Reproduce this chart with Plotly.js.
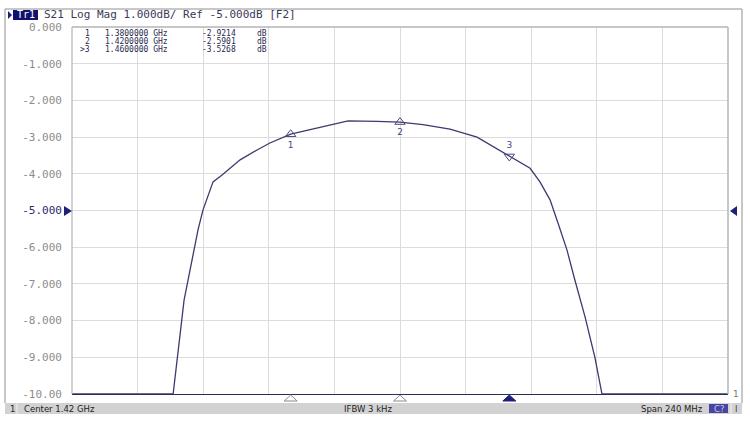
<!DOCTYPE html>
<html>
<head>
<meta charset="utf-8">
<script src="https://cdn.plot.ly/plotly-3.0.1.min.js"></script>
<style>html,body{margin:0;padding:0;background:#fff;}#chart{width:750px;height:427px;}</style>
</head>
<body>
<div id="chart"></div>
<script>
// ---- data ----
const freqGHz = [1.300, 1.337, 1.341, 1.3461, 1.3479, 1.3516, 1.3549, 1.3615, 1.3677, 1.3724, 1.380,
                 1.3896, 1.3955, 1.4010, 1.4116, 1.420, 1.4284, 1.4383, 1.4482, 1.460, 1.4676, 1.4712,
                 1.4749, 1.4778, 1.4811, 1.4840, 1.4877, 1.4913, 1.4939, 1.540];
const s21dB   = [-10, -10, -7.44, -5.53, -4.99, -4.22, -4.03, -3.62, -3.35, -3.16, -2.92,
                 -2.75, -2.64, -2.56, -2.57, -2.59, -2.66, -2.78, -3.00, -3.53, -3.85, -4.22,
                 -4.71, -5.34, -6.08, -6.90, -7.90, -9.00, -10, -10];
const markerNames = ['1', '2', '3'];
const markerTableNames = ['1', '2', '>3'];
const markerFreq = [1.38, 1.42, 1.46];
const markerVal = [-2.9214, -2.5901, -3.5268];
const markerFreqText = ['1.3800000 GHz', '1.4200000 GHz', '1.4600000 GHz'];
const markerValText = ['-2.9214', '-2.5901', '-3.5268'];
const gridFreq = [1.300, 1.324, 1.348, 1.372, 1.396, 1.420, 1.444, 1.468, 1.492, 1.516, 1.540];
const yTickVals = [0, -1, -2, -3, -4, -5, -6, -7, -8, -9, -10];
const yTickText = ['0.000', '-1.000', '-2.000', '-3.000', '-4.000', '-5.000', '-6.000', '-7.000', '-8.000', '-9.000', '-10.00'];
const refLevel = -5;
const headerText = 'S21 Log Mag 1.000dB/ Ref -5.000dB [F2]';
const statusLeft = 'Center 1.42 GHz';
const statusMid = 'IFBW 3 kHz';
const statusRight = 'Span 240 MHz';

// ---- geometry helpers (pixel -> paper) ----
const W = 750, H = 427, L = 72, R = 728, T = 27, B = 394;
const px = x => (x - L) / (R - L);
const py = y => (B - y) / (B - T);
const NAVY = '#1f1f7a', CURVE = '#3b3b6e', GRID = '#dcdcdc', FRAME = '#b4b4b4';
const MONO = 'DejaVu Sans Mono, monospace';
const SANS = 'DejaVu Sans, sans-serif';

const shapes = [];
const ann = [];
// outer frame
shapes.push({type:'line', xref:'paper', yref:'paper', x0:px(5), x1:px(742), y0:py(9), y1:py(9), line:{color:FRAME, width:1.5}});
shapes.push({type:'line', xref:'paper', yref:'paper', x0:px(5), x1:px(5), y0:py(9), y1:py(403), line:{color:FRAME, width:1.5}});
shapes.push({type:'line', xref:'paper', yref:'paper', x0:px(742), x1:px(742), y0:py(9), y1:py(403), line:{color:FRAME, width:1.5}});
// plot frame (top/left/right gray)
shapes.push({type:'line', xref:'paper', yref:'paper', x0:0, x1:1, y0:1, y1:1, line:{color:FRAME, width:1.5}});
shapes.push({type:'line', xref:'paper', yref:'paper', x0:0, x1:0, y0:0, y1:1, line:{color:FRAME, width:1.2}});
shapes.push({type:'line', xref:'paper', yref:'paper', x0:1, x1:1, y0:0, y1:1, line:{color:FRAME, width:1.5}});
// status bar
shapes.push({type:'rect', xref:'paper', yref:'paper', x0:px(5), x1:px(742), y0:py(403), y1:py(414), fillcolor:'#d2d2d2', line:{width:0}});
shapes.push({type:'line', xref:'paper', yref:'paper', x0:px(17), x1:px(17), y0:py(403), y1:py(414), line:{color:'#f2f2f2', width:1}});
shapes.push({type:'line', xref:'paper', yref:'paper', x0:px(731), x1:px(731), y0:py(403), y1:py(414), line:{color:'#f2f2f2', width:1}});
shapes.push({type:'rect', xref:'paper', yref:'paper', x0:px(709), x1:px(728), y0:py(404), y1:py(413), fillcolor:'#4646a0', line:{width:0}});
// header Tr1 box and arrow
shapes.push({type:'path', xref:'paper', yref:'paper', path:`M ${px(8)},${py(11)} L ${px(12)},${py(15)} L ${px(8)},${py(19)} Z`, fillcolor:NAVY, line:{width:0}});
shapes.push({type:'rect', xref:'paper', yref:'paper', x0:px(13), x1:px(38), y0:py(10), y1:py(20), fillcolor:'#12126e', line:{width:0}});
// reference level triangles
shapes.push({type:'path', xref:'paper', yref:'paper',
  path:`M ${px(64)},${py(206)} L ${px(72)},${py(211)} L ${px(64)},${py(216)} Z`, fillcolor:NAVY, line:{width:0}});
shapes.push({type:'path', xref:'paper', yref:'paper',
  path:`M ${px(737)},${py(206)} L ${px(730)},${py(211)} L ${px(737)},${py(216)} Z`, fillcolor:NAVY, line:{width:0}});
// bottom marker triangles (x from marker frequencies)
const half = 6.5 * 0.24 / (R - L);
markerFreq.forEach((f, i) => {
  const active = i === markerFreq.length - 1;
  shapes.push({type:'path', xref:'x', yref:'paper',
    path:`M ${f - half},${py(401)} L ${f},${py(395)} L ${f + half},${py(401)} Z`,
    fillcolor: active ? NAVY : '#ffffff', line:{color: active ? NAVY : '#8a8a8a', width:1}});
});

// header text
ann.push({xref:'paper', yref:'paper', x:px(15), y:py(15), xanchor:'left', yanchor:'middle', showarrow:false,
  text:'Tr1', font:{family:MONO, size:10, color:'#ffffff'}});
ann.push({xref:'paper', yref:'paper', x:px(42), y:py(15), xanchor:'left', yanchor:'middle', showarrow:false,
  text:headerText, font:{family:MONO, size:11, color:'#3a3a55'}});
// marker table
const rowY = [33, 41, 49];
const TF = {family:MONO, size:8, color:'#2a2a50'};
markerTableNames.forEach((n, i) => {
  ann.push({xref:'paper', yref:'paper', x:px(91), y:py(rowY[i]), xanchor:'right', yanchor:'middle', showarrow:false,
    text:n, font:TF, borderpad:0});
  ann.push({xref:'paper', yref:'paper', x:px(104), y:py(rowY[i]), xanchor:'left', yanchor:'middle', showarrow:false,
    text:markerFreqText[i], font:TF, borderpad:0});
  ann.push({xref:'paper', yref:'paper', x:px(201), y:py(rowY[i]), xanchor:'left', yanchor:'middle', showarrow:false,
    text:markerValText[i], font:TF, borderpad:0});
  ann.push({xref:'paper', yref:'paper', x:px(268), y:py(rowY[i]), xanchor:'right', yanchor:'middle', showarrow:false,
    text:'dB', font:TF, borderpad:0});
});
// right trace number
ann.push({xref:'paper', yref:'paper', x:px(731), y:py(394), xanchor:'left', yanchor:'middle', showarrow:false,
  text:'1', font:{family:SANS, size:9, color:'#777'}});
// status bar texts
const SF = {family:SANS, size:8.5, color:'#222'};
ann.push({xref:'paper', yref:'paper', x:px(8), y:py(408.5), xanchor:'left', yanchor:'middle', showarrow:false, text:'1', font:SF});
ann.push({xref:'paper', yref:'paper', x:px(22), y:py(408.5), xanchor:'left', yanchor:'middle', showarrow:false, text:statusLeft, font:SF});
ann.push({xref:'paper', yref:'paper', x:px(368), y:py(408.5), xanchor:'center', yanchor:'middle', showarrow:false, text:statusMid, font:SF});
ann.push({xref:'paper', yref:'paper', x:px(705), y:py(408.5), xanchor:'right', yanchor:'middle', showarrow:false, text:statusRight, font:SF});
ann.push({xref:'paper', yref:'paper', x:px(718.5), y:py(408.5), xanchor:'center', yanchor:'middle', showarrow:false,
  text:'C?', font:{family:SANS, size:8.5, color:'#c8c8f0'}});
ann.push({xref:'paper', yref:'paper', x:px(736), y:py(408.5), xanchor:'center', yanchor:'middle', showarrow:false,
  text:'I', font:{family:SANS, size:8.5, color:'#444'}});

const tickText = yTickText.map((t, i) => yTickVals[i] === refLevel ? `<span style="color:#2a2a70">${t}</span>` : t);

const traces = [
  {x: freqGHz, y: s21dB, type:'scatter', mode:'lines', line:{color:CURVE, width:1.3}, hoverinfo:'skip'},
  {x: markerFreq, y: markerVal, type:'scatter', mode:'markers+text', text: markerNames,
   textposition: ['bottom center', 'bottom center', 'top center'],
   textfont:{family:SANS, size:9, color:'#4a4a7a'},
   marker:{symbol:['triangle-up-open', 'triangle-up-open', 'triangle-down-open'], size:9, color:'#4a4a7a', line:{width:1}},
   cliponaxis:false, hoverinfo:'skip'}
];

const layout = {
  width: W, height: H,
  margin: {l: L, r: W - R, t: T, b: H - B, pad: 0},
  paper_bgcolor: '#ffffff', plot_bgcolor: '#ffffff',
  showlegend: false,
  xaxis: {range: [gridFreq[0], gridFreq[gridFreq.length - 1]], tickvals: gridFreq, showticklabels: false,
          showgrid: true, gridcolor: GRID, gridwidth: 1, zeroline: false, ticks: '',
          showline: true, linecolor: '#2e2e55', linewidth: 1.3},
  yaxis: {range: [-10, 0], tickvals: yTickVals, ticktext: tickText, showgrid: true, gridcolor: GRID, gridwidth: 1,
          zeroline: false, ticks: '', ticklabelstandoff: 9,
          tickfont: {family: MONO, size: 11, color: '#8c8c8c'}, showline: false},
  shapes: shapes,
  annotations: ann
};

Plotly.newPlot('chart', traces, layout, {staticPlot: true, displayModeBar: false});
</script>
</body>
</html>
